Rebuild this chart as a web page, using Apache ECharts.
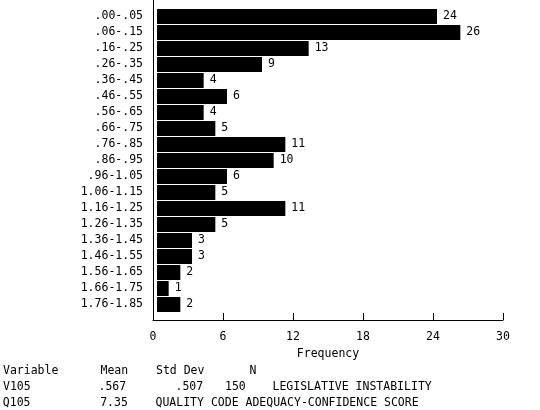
<!DOCTYPE html>
<html>
<head>
<meta charset="utf-8">
<script src="https://cdn.jsdelivr.net/npm/echarts@6/dist/echarts.min.js"></script>
<style>
    html, body { margin: 0; padding: 0; background: #fff; }
    #chart { width: 540px; height: 410px; }
</style>
</head>
<body>
<div id="chart"></div>
<script>
// class intervals and counts
const categories = [
    '.00-.05', '.06-.15', '.16-.25', '.26-.35', '.36-.45', '.46-.55', '.56-.65',
    '.66-.75', '.76-.85', '.86-.95', '.96-1.05', '1.06-1.15', '1.16-1.25',
    '1.26-1.35', '1.36-1.45', '1.46-1.55', '1.56-1.65', '1.66-1.75', '1.76-1.85'
];
const counts = [24, 26, 13, 9, 4, 6, 4, 5, 11, 10, 6, 5, 11, 5, 3, 3, 2, 1, 2];

const xMin = 0;
const xMax = 30;
const xStep = 6;

// summary lines under the chart
const statHeader = ['Variable', 'Mean', 'Std Dev', 'N'];
const statRow1 = ['V105', '.567', '.507', '150', 'LEGISLATIVE INSTABILITY'];
const statRow2 = ['Q105', '7.35', 'QUALITY CODE ADEQUACY-CONFIDENCE SCORE'];

const FONT = 'DejaVu Sans Mono';
const FS = 11.5;

const chart = echarts.init(document.getElementById('chart'), null, { renderer: 'canvas' });

function txt(str, x, y) {
    return {
        type: 'text',
        x: x,
        y: y,
        style: {
            text: str,
            fill: '#000',
            font: FS + 'px "' + FONT + '"',
            verticalAlign: 'middle'
        }
    };
}

const header = [3, 100.5, 156, 249.5];
const row1 = [3, 98.5, 175.5, 225, 272.5];
const row2 = [2.8, 100.2, 155.5];

const graphics = [];
statHeader.forEach((s, i) => graphics.push(txt(s, header[i], 371)));
statRow1.forEach((s, i) => graphics.push(txt(s, row1[i], 387)));
statRow2.forEach((s, i) => graphics.push(txt(s, row2[i], 403)));

const option = {
    animation: false,
    backgroundColor: '#fff',
    textStyle: { fontFamily: FONT, fontSize: FS, color: '#000' },
    grid: [
        // frame: axis lines + ticks
        { left: 153, right: 37, top: 0, bottom: 90 },
        // bars
        { left: 157, right: 33, top: 8.5, bottom: 97.5 }
    ],
    xAxis: [
        {
            gridIndex: 0,
            type: 'value',
            min: xMin,
            max: xMax,
            interval: xStep,
            axisLine: { show: true, lineStyle: { color: '#000', width: 1 } },
            axisTick: { show: true, inside: true, length: 7, lineStyle: { color: '#000' } },
            axisLabel: { color: '#000', fontFamily: FONT, fontSize: FS, margin: 11 },
            splitLine: { show: false },
            name: 'Frequency',
            nameLocation: 'middle',
            nameGap: 27,
            nameTextStyle: { color: '#000', fontFamily: FONT, fontSize: FS }
        },
        {
            gridIndex: 1,
            type: 'value',
            min: xMin,
            max: xMax,
            show: false
        }
    ],
    yAxis: [
        {
            gridIndex: 0,
            type: 'value',
            min: 0,
            max: 1,
            axisLine: { show: true, lineStyle: { color: '#000', width: 1 } },
            axisTick: { show: false },
            axisLabel: { show: false },
            splitLine: { show: false }
        },
        {
            gridIndex: 1,
            type: 'category',
            inverse: true,
            data: categories,
            axisLine: { show: false },
            axisTick: { show: false },
            axisLabel: { color: '#000', fontFamily: FONT, fontSize: FS, margin: 14 },
            splitLine: { show: false }
        }
    ],
    series: [
        {
            type: 'bar',
            xAxisIndex: 1,
            yAxisIndex: 1,
            data: counts,
            barCategoryGap: '6.25%',
            itemStyle: { color: '#000' },
            label: {
                show: true,
                position: 'right',
                distance: 6,
                color: '#000',
                fontFamily: FONT,
                fontSize: FS
            }
        }
    ],
    graphic: graphics
};

chart.setOption(option);
</script>
</body>
</html>
